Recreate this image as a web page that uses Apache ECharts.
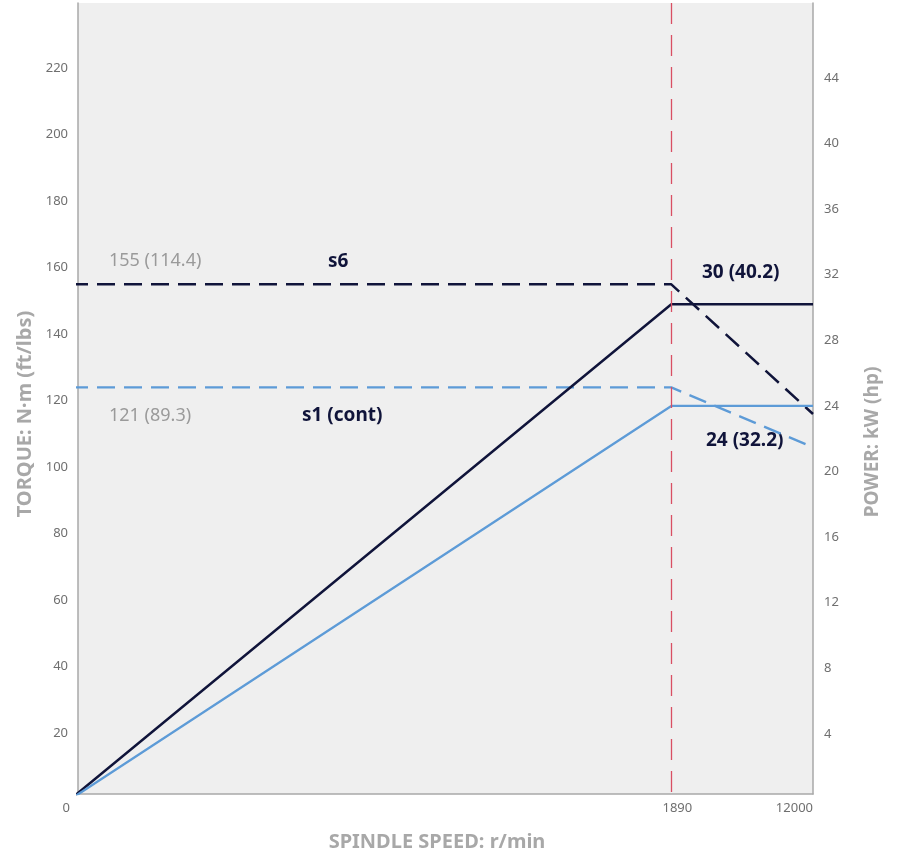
<!DOCTYPE html>
<html>
<head>
<meta charset="utf-8">
<script src="https://cdn.jsdelivr.net/npm/echarts@6/dist/echarts.min.js"></script>
<style>
  html, body { margin: 0; padding: 0; background: #fff; }
  #chart { width: 900px; height: 858px; }
</style>
</head>
<body>
<div id="chart"></div>
<script>
// spindle speed points (r/min)
const speeds = [0, 1890, 12000];
// torque N·m (left axis)
const s6Torque = [155, 155, 116];
const s1Torque = [124, 124, 106];
// power kW (right axis)
const s6Power = [0, 30.2, 30.2];
const s1Power = [0, 24, 24];

const torqueTicks = [20, 40, 60, 80, 100, 120, 140, 160, 180, 200, 220];
const powerTicks = [4, 8, 12, 16, 20, 24, 28, 32, 36, 40, 44];
const speedTicks = [1890, 12000];
const baseSpeed = 1890;

// speed above base speed is squeezed into the last part of the axis
const SQUEEZE = 0.04405;
function sx(v) {
  return v <= baseSpeed ? v : baseSpeed + (v - baseSpeed) * SQUEEZE;
}
function pts(vals) {
  return speeds.map((s, i) => [sx(s), vals[i]]);
}

const DARK = '#10143a';
const BLUE = '#5d9bd7';
const LABEL = '#6f6f6f';
const NAME = '#a8a8a8';
const NOTE = '#9a9a9a';
const FONT = "'Noto Sans', sans-serif";

const xMin = 25.1;
const xMax = sx(12000);
const torqueMin = 1.744;
const torqueMax = 239.6;

let myChart = echarts.init(document.getElementById('chart'));
let option = {
  animation: false,
  grid: {
    left: 78, right: 87, top: 3, bottom: 64,
    show: true,
    backgroundColor: '#efefef',
    borderWidth: 0
  },
  xAxis: {
    type: 'value',
    min: xMin,
    max: xMax,
    axisLine: { show: true, onZero: false, lineStyle: { color: '#a9a9a9', width: 1.5 } },
    axisTick: { show: false },
    splitLine: { show: false },
    axisLabel: {
      customValues: speedTicks.map(sx),
      color: LABEL,
      fontSize: 13,
      fontFamily: FONT,
      margin: 8,
      alignMaxLabel: 'right',
      formatter: function (v) {
        let i = speedTicks.map(sx).findIndex(t => Math.abs(t - v) < 0.5);
        let txt = i >= 0 ? String(speedTicks[i]) : '';
        if (speedTicks[i] === baseSpeed) return '{s|' + txt + '}';
        return txt;
      },
      rich: { s: { padding: [0, 0, 0, 12], color: LABEL, fontSize: 13, fontFamily: FONT } }
    }
  },
  yAxis: [
    {
      type: 'value',
      min: torqueMin,
      max: torqueMax,
      position: 'left',
      axisLine: { show: true, onZero: false, lineStyle: { color: '#a9a9a9', width: 1.5 } },
      axisTick: { show: false },
      splitLine: { show: false },
      axisLabel: {
        customValues: torqueTicks,
        color: LABEL,
        fontSize: 13,
        fontFamily: FONT,
        margin: 10
      }
    },
    {
      type: 'value',
      min: 0.341,
      max: 48.57,
      position: 'right',
      axisLine: { show: true, onZero: false, lineStyle: { color: '#a9a9a9', width: 1.5 } },
      axisTick: { show: false },
      splitLine: { show: false },
      axisLabel: {
        customValues: powerTicks,
        color: LABEL,
        fontSize: 13,
        fontFamily: FONT,
        margin: 11
      }
    }
  ],
  series: [
    {
      name: 's6 torque',
      type: 'line',
      yAxisIndex: 0,
      data: pts(s6Torque),
      symbol: 'none',
      lineStyle: { color: DARK, width: 2.5, type: [18, 9] },
      markLine: {
        silent: true,
        symbol: 'none',
        label: { show: false },
        lineStyle: { color: '#d94f63', width: 1.3, type: [21, 11] },
        data: [[{ coord: [sx(baseSpeed), torqueMax] }, { coord: [sx(baseSpeed), torqueMin] }]]
      }
    },
    {
      name: 's1 torque',
      type: 'line',
      yAxisIndex: 0,
      data: pts(s1Torque),
      symbol: 'none',
      lineStyle: { color: BLUE, width: 2.3, type: [18, 9] }
    },
    {
      name: 's6 power',
      type: 'line',
      yAxisIndex: 1,
      data: pts(s6Power),
      symbol: 'none',
      lineStyle: { color: DARK, width: 2.5 }
    },
    {
      name: 's1 power',
      type: 'line',
      yAxisIndex: 1,
      data: pts(s1Power),
      symbol: 'none',
      lineStyle: { color: BLUE, width: 2.3 }
    }
  ],
  graphic: [
    // origin label sits just outside the plotted extent
    { type: 'text', x: 70, y: 808, style: { text: '0', fill: LABEL, font: '13px ' + FONT, align: 'right', verticalAlign: 'middle' } },
    { type: 'text', x: 109, y: 261, style: { text: '155 (114.4)', fill: NOTE, font: '18px ' + FONT, verticalAlign: 'middle' } },
    { type: 'text', x: 328, y: 262, style: { text: 's6', fill: DARK, font: 'bold 19px ' + FONT, verticalAlign: 'middle' } },
    { type: 'text', x: 702, y: 273, style: { text: '30 (40.2)', fill: DARK, font: 'bold 19px ' + FONT, verticalAlign: 'middle' } },
    { type: 'text', x: 109, y: 416, style: { text: '121 (89.3)', fill: NOTE, font: '18px ' + FONT, verticalAlign: 'middle' } },
    { type: 'text', x: 302, y: 416, style: { text: 's1 (cont)', fill: DARK, font: 'bold 19px ' + FONT, verticalAlign: 'middle' } },
    { type: 'text', x: 706, y: 441, style: { text: '24 (32.2)', fill: DARK, font: 'bold 19px ' + FONT, verticalAlign: 'middle' } },
    // axis titles
    { type: 'text', x: 25, y: 414, rotation: Math.PI / 2, style: { text: 'TORQUE: N·m (ft/lbs)', fill: NAME, font: 'bold 20px ' + FONT, align: 'center', verticalAlign: 'middle' } },
    { type: 'text', x: 873, y: 442, rotation: Math.PI / 2, style: { text: 'POWER: kW (hp)', fill: NAME, font: 'bold 19px ' + FONT, align: 'center', verticalAlign: 'middle' } },
    { type: 'text', x: 437, y: 842, style: { text: 'SPINDLE SPEED: r/min', fill: NAME, font: 'bold 20px ' + FONT, align: 'center', verticalAlign: 'middle' } }
  ]
};
myChart.setOption(option);
</script>
</body>
</html>
